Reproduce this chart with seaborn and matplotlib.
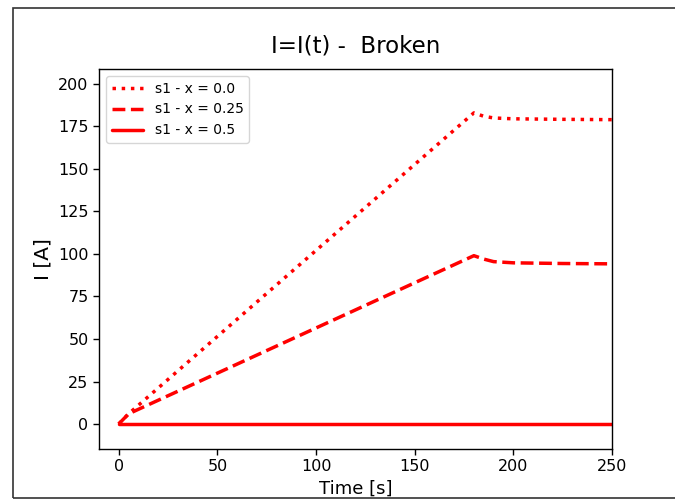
import numpy as np
import pandas as pd
import seaborn as sns
import matplotlib
matplotlib.use("Agg")
import matplotlib.pyplot as plt
from matplotlib.patches import Rectangle

# Current through the s1 branch at three positions along the conductor
time_s = [0, 5, 180, 185, 190, 200, 225, 250]
current_x000 = [0, 6, 183, 181, 180, 179.5, 179.2, 179.0]
current_x025 = [0, 6, 99, 97, 95.5, 94.8, 94.4, 94.2]
current_x050 = [0, 0, 0, 0, 0, 0, 0, 0]
series_labels = ["s1 - x = 0.0", "s1 - x = 0.25", "s1 - x = 0.5"]
series_styles = [":", "--", "-"]

frames = []
for label, values in zip(series_labels, [current_x000, current_x025, current_x050]):
    frames.append(pd.DataFrame({"Time": time_s, "I": values, "series": label}))
df = pd.concat(frames, ignore_index=True)

sns.set_style("ticks")
plt.rcParams["font.family"] = ["DejaVu Sans"]
plt.rcParams["text.color"] = "black"
plt.rcParams["axes.labelcolor"] = "black"
plt.rcParams["xtick.color"] = "black"
plt.rcParams["ytick.color"] = "black"

fig = plt.figure(figsize=(6.75, 5.04), dpi=100)
ax = fig.add_axes([99 / 675, 1 - 449 / 504, (612 - 99) / 675, (449 - 69) / 504])

for label, ls in zip(series_labels, series_styles):
    sub = df[df["series"] == label]
    sns.lineplot(data=sub, x="Time", y="I", ax=ax, color="red",
                 linestyle=ls, linewidth=2.5, label=label)

ax.set_xlim(-10, 250)
ax.set_ylim(-14.7, 208.8)
ax.set_xticks([0, 50, 100, 150, 200, 250])
ax.set_yticks([0, 25, 50, 75, 100, 125, 150, 175, 200])
ax.tick_params(axis="both", labelsize=11.5, length=4, width=1, color="black",
               labelcolor="black", direction="out")
for sp in ax.spines.values():
    sp.set_color("black")
    sp.set_linewidth(1.0)
    sp.set_visible(True)

ax.set_title("I=I(t) -  Broken", fontsize=16.5, pad=12, color="black")
ax.set_xlabel("Time [s]", fontsize=13, color="black")
ax.set_ylabel("I [A]", fontsize=14.5, color="black")

leg = ax.legend(loc="upper left", fontsize=10, frameon=True,
                handlelength=2.3)
leg.get_frame().set_edgecolor("#cccccc")
for txt in leg.get_texts():
    txt.set_color("black")

# Outer frame around the figure
fig.patches.append(Rectangle((13 / 675, 1 - 498 / 504), 1.0, (498 - 8) / 504,
                             transform=fig.transFigure, fill=False,
                             edgecolor="#333333", linewidth=1.2, clip_on=False))

fig.savefig("out.png", dpi=100, facecolor="white")
